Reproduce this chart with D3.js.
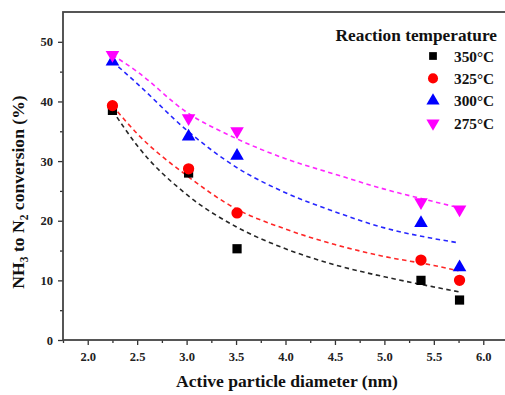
<!DOCTYPE html>
<html>
<head>
<meta charset="utf-8">
<script src="https://cdn.jsdelivr.net/npm/d3@7"></script>
<style>
  body { margin: 0; background: #fff; }
</style>
</head>
<body>
<div id="chart"></div>
<script>
var FONT = "'Liberation Serif', 'Times New Roman', Times, serif";

// measured points
var diameters = [2.25, 3.02, 3.51, 5.37, 5.76];
var temps = ["350°C", "325°C", "300°C", "275°C"];
var conv350 = [38.5, 28.0, 15.3, 10.0, 6.7];
var conv325 = [39.3, 28.7, 21.3, 13.4, 10.0];
var conv300 = [46.7, 34.1, 30.9, 19.6, 12.2];
var conv275 = [47.8, 37.2, 35.0, 23.1, 21.9];

// dashed fit curves
var fitX = [2.25, 2.5, 3.0, 3.5, 4.0, 4.5, 5.0, 5.5, 5.75];
var fit350 = [38.5, 32.6, 24.4, 19.0, 15.3, 12.6, 10.6, 8.9, 8.1];
var fit325 = [39.3, 34.6, 27.6, 22.0, 18.6, 16.0, 14.0, 12.5, 11.6];
var fit300 = [46.7, 43.0, 35.2, 29.0, 24.7, 21.5, 18.8, 17.0, 16.3];
var fit275 = [47.8, 45.0, 38.2, 33.8, 30.4, 27.8, 25.3, 23.2, 22.2];

var xTicks = [2.0, 2.5, 3.0, 3.5, 4.0, 4.5, 5.0, 5.5, 6.0];
var yTicks = [0, 10, 20, 30, 40, 50];

var colors = ["#000000", "#ff0000", "#0000ff", "#ff00ff"];
var shapes = [d3.symbolSquare, d3.symbolCircle, d3.symbolTriangle, d3.symbolTriangle];

var svg = d3.select("#chart").append("svg")
  .attr("width", 505)
  .attr("height", 395);

var margin = {top: 12, right: -3, bottom: 55, left: 63},
  width = 505 - margin.left - margin.right,
  height = 395 - margin.top - margin.bottom;

var x = d3.scaleLinear().domain([1.75, 6.25]).range([0, width]);
var y = d3.scaleLinear().domain([0, 55]).range([height, 0]);

var g = svg.append("g").attr("transform", "translate(" + margin.left + "," + margin.top + ")");

var series = [
  {pts: conv350, fit: fit350},
  {pts: conv325, fit: fit325},
  {pts: conv300, fit: fit300},
  {pts: conv275, fit: fit275}
];

// axes
var xMinor = d3.range(1.75, 6.3, 0.25).filter(function(d) { return Math.abs(d * 2 - Math.round(d * 2)) > 0.01; });
var yMinor = [5, 15, 25, 35, 45];

g.append("g")
  .attr("transform", "translate(0," + height + ")")
  .call(d3.axisBottom(x).tickValues(xMinor).tickSize(3).tickFormat(""))
  .call(function(a) { a.select(".domain").remove(); });

g.append("g")
  .attr("transform", "translate(0," + height + ")")
  .call(d3.axisBottom(x).tickValues(xTicks).tickSize(5).tickPadding(7).tickFormat(d3.format(".1f")))
  .call(function(a) { a.select(".domain").remove(); });

g.append("g")
  .call(d3.axisLeft(y).tickValues(yMinor).tickSize(3).tickFormat(""))
  .call(function(a) { a.select(".domain").remove(); });

g.append("g")
  .call(d3.axisLeft(y).tickValues(yTicks).tickSize(5).tickPadding(5))
  .call(function(a) { a.select(".domain").remove(); });

g.selectAll(".tick line").attr("stroke", "#333").attr("stroke-width", 1.3);
g.selectAll(".tick text")
  .style("font-family", FONT)
  .style("font-weight", "bold")
  .style("font-size", "12.5px")
  .attr("fill", "#222");

// frame
g.append("rect")
  .attr("x", 0).attr("y", 0)
  .attr("width", width).attr("height", height)
  .attr("fill", "none")
  .attr("stroke", "#444")
  .attr("stroke-width", 1.8);

// fit lines
var line = d3.line()
  .x(function(d) { return x(d[0]); })
  .y(function(d) { return y(d[1]); })
  .curve(d3.curveMonotoneX);

series.forEach(function(s, i) {
  g.append("path")
    .datum(fitX.map(function(v, j) { return [v, s.fit[j]]; }))
    .attr("fill", "none")
    .attr("stroke", colors[i])
    .attr("stroke-width", 1.6)
    .attr("stroke-dasharray", "4.5,3.5")
    .attr("opacity", 0.85)
    .attr("d", line);
});

// markers
var sizes = [85, 100, 80, 80];
series.forEach(function(s, i) {
  g.append("g").selectAll("path")
    .data(diameters.map(function(v, j) { return [v, s.pts[j]]; }))
    .enter().append("path")
      .attr("d", d3.symbol().type(shapes[i]).size(sizes[i]))
      .attr("fill", colors[i])
      .attr("transform", function(d) {
        var t = "translate(" + x(d[0]) + "," + y(d[1]) + ")";
        if (i === 3) t += " rotate(180)";
        return t;
      });
});

// legend
var legend = svg.append("g")
  .style("font-family", FONT)
  .style("font-weight", "bold");

legend.append("text")
  .attr("x", 497).attr("y", 41)
  .attr("text-anchor", "end")
  .style("font-size", "17.3px")
  .attr("fill", "#111")
  .text("Reaction temperature");

var item = legend.selectAll(".item")
  .data(temps)
  .enter().append("g")
    .attr("class", "item")
    .attr("transform", function(d, i) { return "translate(433," + (56 + i * 22.4) + ")"; });

item.append("path")
  .attr("d", function(d, i) { return d3.symbol().type(shapes[i]).size([60, 80, 75, 75][i])(); })
  .attr("fill", function(d, i) { return colors[i]; })
  .attr("transform", function(d, i) { return i === 3 ? "rotate(180)" : null; });

item.append("text")
  .attr("x", 21).attr("y", 5.5)
  .style("font-size", "15.3px")
  .attr("fill", "#111")
  .text(function(d) { return d; });

// axis titles
svg.append("text")
  .attr("x", 287).attr("y", 387)
  .attr("text-anchor", "middle")
  .style("font-family", FONT)
  .style("font-weight", "bold")
  .style("font-size", "17.6px")
  .attr("fill", "#111")
  .text("Active particle diameter (nm)");

var yt = svg.append("text")
  .attr("transform", "translate(24,192) rotate(-90)")
  .attr("text-anchor", "middle")
  .style("font-family", FONT)
  .style("font-weight", "bold")
  .style("font-size", "17.6px")
  .attr("fill", "#111");
yt.append("tspan").text("NH");
yt.append("tspan").style("font-size", "11.5px").attr("dy", 4).text("3");
yt.append("tspan").attr("dy", -4).text(" to N");
yt.append("tspan").style("font-size", "11.5px").attr("dy", 4).text("2");
yt.append("tspan").attr("dy", -4).text(" conversion (%)");
</script>
</body>
</html>
